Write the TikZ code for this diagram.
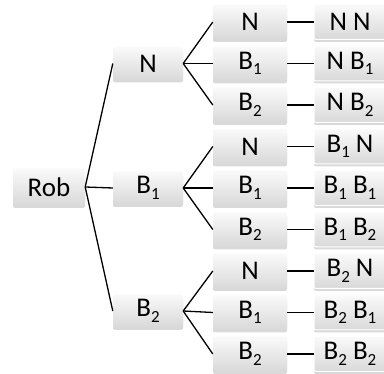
\documentclass[tikz,border=0pt]{standalone}
\usepackage{fontspec}
\setmainfont{Carlito}
\usetikzlibrary{shadows}
\newcommand\sbs[1]{\raisebox{-5.5pt}{\fontsize{17}{17}\selectfont #1}}
\begin{document}
\begin{tikzpicture}[x=1pt,y=-1pt,
 box/.style={rectangle, rounded corners=2pt, minimum height=35pt, inner sep=0pt,
   top color=gray!4, bottom color=gray!30, draw=none,
   drop shadow={shadow xshift=0pt, shadow yshift=-2.5pt, opacity=0.3, fill=gray},
   font=\fontsize{27}{29}\selectfont},
 leaf/.style={box, draw=white, line width=1pt, minimum width=72pt},
 mid/.style={box, minimum width=74pt},
 first/.style={box, minimum width=70pt, minimum height=33pt},
 conn/.style={line width=1.3pt}]
\useasboundingbox (0,0) rectangle (384,374);
% root
\node[box, minimum width=72pt, minimum height=37pt] (rob) at (49,187) {Rob};
% level 1
\node[first] (n)  at (148,63.5) {N};
\node[first] (b1) at (148,188) {B\sbs{1}};
\node[first] (b2) at (148,311) {B\sbs{2}};
% level 2
\node[mid] (nn)  at (250,22)    {N};
\node[mid] (nb1) at (250,63.5)  {B\sbs{1}};
\node[mid] (nb2) at (250,105)   {B\sbs{2}};
\node[mid] (b1n)  at (250,146.5) {N};
\node[mid] (b1b1) at (250,188)   {B\sbs{1}};
\node[mid] (b1b2) at (250,229.5) {B\sbs{2}};
\node[mid] (b2n)  at (250,271)   {N};
\node[mid] (b2b1) at (250,312.5) {B\sbs{1}};
\node[mid] (b2b2) at (250,354)   {B\sbs{2}};
% level 3
\node[leaf] (Lnn)  at (350,22)    {N N};
\node[leaf] (Lnb1) at (350,63.5)  {N B\sbs{1}};
\node[leaf] (Lnb2) at (350,105)   {N B\sbs{2}};
\node[leaf] (Lb1n)  at (350,146.5) {B\sbs{1} N};
\node[leaf] (Lb1b1) at (350,188)   {B\sbs{1} B\sbs{1}};
\node[leaf] (Lb1b2) at (350,229.5) {B\sbs{1} B\sbs{2}};
\node[leaf] (Lb2n)  at (350,271)   {B\sbs{2} N};
\node[leaf] (Lb2b1) at (350,312.5) {B\sbs{2} B\sbs{1}};
\node[leaf] (Lb2b2) at (350,354)   {B\sbs{2} B\sbs{2}};
% connectors
\foreach \t in {n,b1,b2} \draw[conn] (rob.east) -- (\t.west);
\foreach \p in {n,b1,b2} {
  \foreach \c in {n,b1,b2} {
    \draw[conn] (\p.east) -- (\p\c.west);
    \draw[conn] (\p\c.east) -- (L\p\c.west);
  }
}
\end{tikzpicture}
\end{document}
